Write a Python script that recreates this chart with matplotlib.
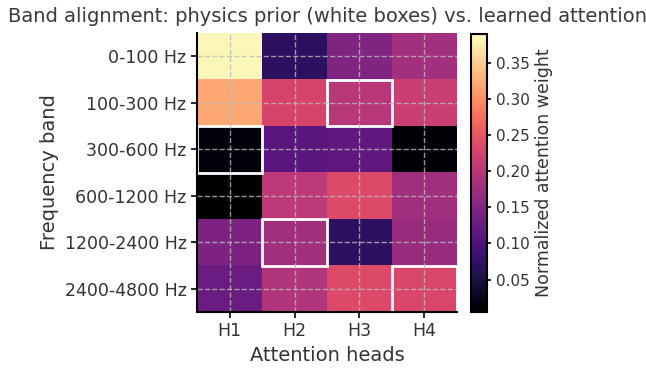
import numpy as np
import matplotlib
matplotlib.use("Agg")
import matplotlib.pyplot as plt
from matplotlib.patches import Rectangle

bands = ["0-100 Hz", "100-300 Hz", "300-600 Hz", "600-1200 Hz", "1200-2400 Hz", "2400-4800 Hz"]
heads = ["H1", "H2", "H3", "H4"]

# column-normalized attention (each head sums to ~1)
h1 = [0.385, 0.320, 0.012, 0.005, 0.144, 0.128]
h2 = [0.070, 0.228, 0.113, 0.205, 0.178, 0.194]
h3 = [0.147, 0.200, 0.117, 0.236, 0.070, 0.236]
h4 = [0.180, 0.217, 0.009, 0.178, 0.170, 0.232]

# physics prior: (band index, head index)
prior = [(1, 2), (2, 0), (4, 1), (5, 3)]

txt = "#333333"
plt.rcParams["text.color"] = txt
plt.rcParams["axes.labelcolor"] = txt
plt.rcParams["xtick.color"] = txt
plt.rcParams["ytick.color"] = txt

att = np.array([h1, h2, h3, h4]).T

fig = plt.figure(figsize=(6.46, 3.69), dpi=100)
ax = fig.add_axes([197 / 646, 1 - 312 / 369, 260 / 646, 279 / 369])
cax = fig.add_axes([471 / 646, 1 - 312 / 369, 16 / 646, 278 / 369])

im = ax.imshow(att, cmap="magma", aspect="auto", vmin=0.005, vmax=0.39)
for r, c in prior:
    ax.add_patch(Rectangle((c - 0.5, r - 0.5), 1, 1, fill=False, edgecolor="white", lw=2))

ax.set_xticks(range(len(heads)))
ax.set_xticklabels(heads)
ax.set_yticks(range(len(bands)))
ax.set_yticklabels(bands)
ax.grid(True, color="#bbbbbb", ls="--", lw=1, alpha=0.8)
ax.tick_params(labelsize=12.5, length=4, width=1.2, colors="black", labelcolor=txt)
for s in ["top", "right"]:
    ax.spines[s].set_visible(False)
for s in ["left", "bottom"]:
    ax.spines[s].set_linewidth(1.5)
ax.set_xlabel("Attention heads", fontsize=14)
ax.set_ylabel("Frequency band", fontsize=14)
ax.set_title("Band alignment: physics prior (white boxes) vs. learned attention", fontsize=14, color="#3a3a3a", pad=8)

cb = fig.colorbar(im, cax=cax)
cb.set_ticks([0.05, 0.10, 0.15, 0.20, 0.25, 0.30, 0.35])
cb.ax.tick_params(labelsize=11, length=3, width=1.2, colors="black", labelcolor=txt)
cb.outline.set_linewidth(1.5)
cb.set_label("Normalized attention weight", fontsize=12.5)

fig.savefig("out.png", dpi=100)
